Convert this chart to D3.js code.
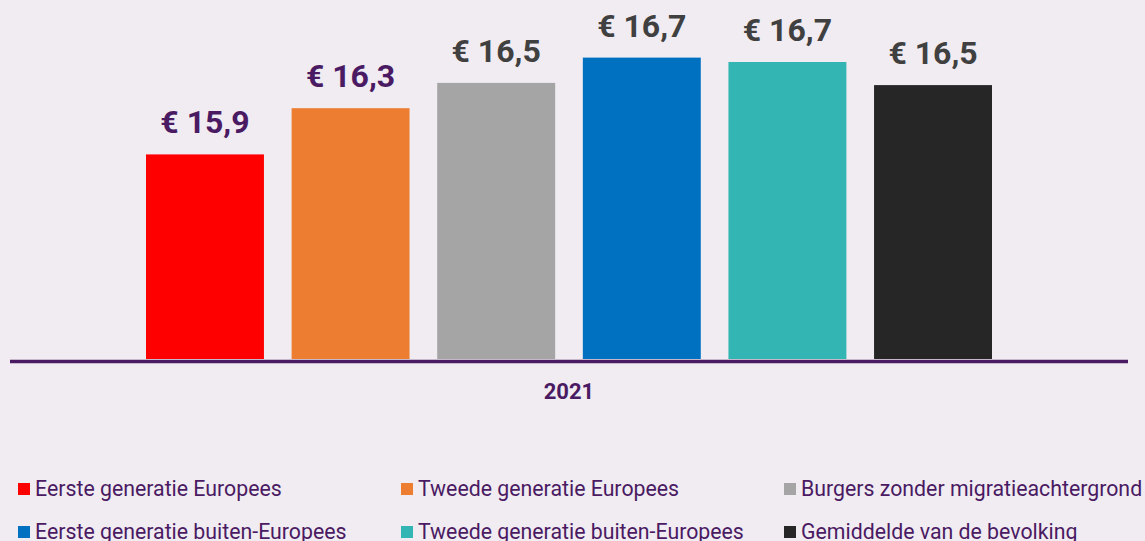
<!DOCTYPE html>
<html>
<head>
<meta charset="utf-8">
<script src="https://cdn.jsdelivr.net/npm/d3@7"></script>
<style>
  html, body { margin: 0; padding: 0; background: #f0ecf2; }
  svg { display: block; font-family: Roboto, "Noto Sans", sans-serif; }
</style>
</head>
<body>
<svg id="chart" width="1145" height="541"></svg>
<script>
// ----- data -----
const categories = [
    "Eerste generatie Europees",
    "Tweede generatie Europees",
    "Burgers zonder migratieachtergrond",
    "Eerste generatie buiten-Europees",
    "Tweede generatie buiten-Europees",
    "Gemiddelde van de bevolking"
];
const values = [15.86, 16.28, 16.51, 16.74, 16.70, 16.49];
const year = "2021";
const colors = ["#ff0000", "#ed7d31", "#a5a5a5", "#0070c0", "#33b5b3", "#262626"];
const labelColors = ["#4a1a62", "#4a1a62", "#404040", "#404040", "#404040", "#404040"];

// ----- layout -----
const svg = d3.select("#chart");
const purple = "#4a1a62";
const baseY = 359;

const x = d3.scaleBand()
    .domain(categories)
    .range([146, 992])
    .paddingInner(0.19)
    .paddingOuter(0);

const y = d3.scaleLinear()
    .domain([14, 17.2])
    .range([baseY, baseY - 110 * 3.2]);

const fmt = v => "€ " + d3.format(".1f")(v).replace(".", ",");

// bars
svg.append("g")
    .selectAll("rect")
    .data(values)
    .join("rect")
    .attr("x", (d, i) => x(categories[i]))
    .attr("y", d => y(d))
    .attr("width", x.bandwidth())
    .attr("height", d => baseY - y(d))
    .attr("fill", (d, i) => colors[i]);

// value labels
svg.append("g")
    .selectAll("text")
    .data(values)
    .join("text")
    .attr("x", (d, i) => x(categories[i]) + x.bandwidth() / 2)
    .attr("y", d => y(d) - 21)
    .attr("text-anchor", "middle")
    .attr("font-size", 32)
    .attr("font-weight", "bold")
    .attr("fill", (d, i) => labelColors[i])
    .text(d => fmt(d));

// axis line
svg.append("line")
    .attr("x1", 10)
    .attr("x2", 1128)
    .attr("y1", baseY + 2.5)
    .attr("y2", baseY + 2.5)
    .attr("stroke", purple)
    .attr("stroke-width", 3.5);

// category label
svg.append("text")
    .attr("x", (x.range()[0] + x.range()[1]) / 2)
    .attr("y", 399)
    .attr("text-anchor", "middle")
    .attr("font-size", 22)
    .attr("font-weight", "bold")
    .attr("fill", purple)
    .text(year);

// legend
const legendCols = [18, 401, 784];
const legendRows = [489, 532];
const legend = svg.append("g")
    .selectAll("g")
    .data(categories)
    .join("g")
    .attr("transform", (d, i) => `translate(${legendCols[i % 3]},${legendRows[Math.floor(i / 3)]})`);

legend.append("rect")
    .attr("x", 0)
    .attr("y", -6)
    .attr("width", 12)
    .attr("height", 12)
    .attr("fill", (d, i) => colors[i]);

legend.append("text")
    .attr("x", 17)
    .attr("y", 7)
    .attr("font-size", 21.3)
    .attr("fill", purple)
    .text(d => d);
</script>
</body>
</html>
